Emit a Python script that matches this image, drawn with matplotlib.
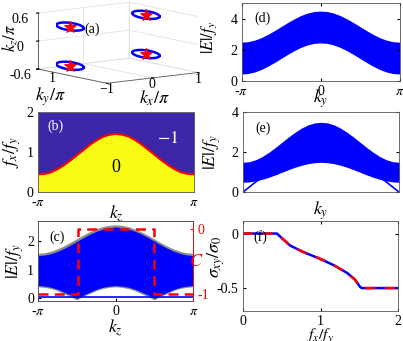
import numpy as np
import matplotlib
matplotlib.use("Agg")
import matplotlib.pyplot as plt
from mpl_toolkits.mplot3d import proj3d

plt.rcParams['font.family'] = ['Liberation Serif', 'DejaVu Serif']
plt.rcParams['mathtext.fontset'] = 'stix'
plt.rcParams['font.size'] = 10
plt.rcParams['xtick.direction'] = 'in'
plt.rcParams['ytick.direction'] = 'in'
plt.rcParams['xtick.major.size'] = 2.5
plt.rcParams['ytick.major.size'] = 2.5
plt.rcParams['xtick.major.pad'] = 3
plt.rcParams['ytick.major.pad'] = 3
plt.rcParams['axes.linewidth'] = 0.6
plt.rcParams['axes.edgecolor'] = '#555555'

BLUE = '#0000ff'
GRAY = '#8c8c8c'
PURPLE = '#3e26a8'
YELLOW = '#f9fb15'
LAB = 13

# momentum grid, -pi .. pi in steps of pi/12
k = np.linspace(-np.pi, np.pi, 25)

# (a) Weyl points: kx/pi, ky/pi, kz/pi
weyl_kx = [-0.9, -0.9, 0.95, 0.95]
weyl_ky = [0.2, 0.2, 0.45, 0.45]
weyl_kz = [0.42, -0.42, 0.42, -0.42]

# (b) phase boundary f_x/f_y vs kz
b_curve = [0.45, 0.46, 0.50, 0.58, 0.68, 0.80, 0.93, 1.06, 1.19, 1.30, 1.39, 1.44, 1.46,
           1.44, 1.39, 1.30, 1.19, 1.06, 0.93, 0.80, 0.68, 0.58, 0.50, 0.46, 0.45]

# (c) bulk band edges and Chern number vs kz
c_low = [0.45, 0.43, 0.39, 0.32, 0.22, 0.12, 0.00, 0.12, 0.22, 0.32, 0.39, 0.43, 0.45,
         0.43, 0.39, 0.32, 0.22, 0.12, 0.00, 0.12, 0.22, 0.32, 0.39, 0.43, 0.45]
c_up = [1.50, 1.52, 1.57, 1.65, 1.75, 1.87, 2.00, 2.13, 2.25, 2.35, 2.43, 2.48, 2.50,
        2.48, 2.43, 2.35, 2.25, 2.13, 2.00, 1.87, 1.75, 1.65, 1.57, 1.52, 1.50]
c_flat = 0.05
chern_kz = [-np.pi, -0.49 * np.pi, -0.49 * np.pi, 0.49 * np.pi, 0.49 * np.pi, np.pi]
chern_C = [-1, -1, 0, 0, -1, -1]

# (d) band vs ky
d_low = [0.45, 0.48, 0.58, 0.74, 0.95, 1.19, 1.45, 1.71, 1.95, 2.16, 2.32, 2.42, 2.45,
         2.42, 2.32, 2.16, 1.95, 1.71, 1.45, 1.19, 0.95, 0.74, 0.58, 0.48, 0.45]
d_up = [2.50, 2.53, 2.63, 2.79, 3.00, 3.24, 3.50, 3.76, 4.00, 4.21, 4.37, 4.47, 4.50,
        4.47, 4.37, 4.21, 4.00, 3.76, 3.50, 3.24, 3.00, 2.79, 2.63, 2.53, 2.50]

# (e) band and edge state vs ky
e_low = [0.50, 0.52, 0.57, 0.65, 0.75, 0.87, 1.00, 1.13, 1.25, 1.35, 1.43, 1.48, 1.50,
         1.48, 1.43, 1.35, 1.25, 1.13, 1.00, 0.87, 0.75, 0.65, 0.57, 0.52, 0.50]
e_up = [1.50, 1.53, 1.63, 1.79, 2.00, 2.24, 2.50, 2.76, 3.00, 3.21, 3.37, 3.47, 3.50,
        3.47, 3.37, 3.21, 3.00, 2.76, 2.50, 2.24, 2.00, 1.79, 1.63, 1.53, 1.50]
e_edge = [0.00, 0.26, 0.52, 0.77, 1.00, 1.22, 1.41, 1.59, 1.73, 1.85, 1.93, 1.98, 2.00,
          1.98, 1.93, 1.85, 1.73, 1.59, 1.41, 1.22, 1.00, 0.77, 0.52, 0.26, 0.00]

# (f) Hall conductivity vs f_x/f_y
f_x = [0.0, 0.44, 0.50, 0.61, 0.78, 0.99, 1.17, 1.34, 1.44, 1.51, 1.53, 2.0]
f_sig = [0.0, 0.0, -0.04, -0.11, -0.17, -0.23, -0.29, -0.36, -0.42, -0.49, -0.5, -0.5]

W, H = 403.0, 341.0
fig = plt.figure(figsize=(W / 100, H / 100), dpi=100)

def px(l, t, r, b):
    return [l / W, 1 - b / H, (r - l) / W, (b - t) / H]

pi_ticks = [-np.pi, 0, np.pi]
pi_labels = ['-$\\pi$', '0', '$\\pi$']

# ---- (a) 3D sketch
ax = fig.add_axes(px(0, -12, 210, 108), projection='3d')
ax.set_proj_type('ortho')
ax.view_init(elev=9, azim=-127)
ax.set_xlim(-1, 1)
ax.set_ylim(-1, 1)
ax.set_zlim(-0.6, 0.6)
ax.set_xticks([-1, 0, 1])
ax.set_yticks([1])
ax.set_yticklabels([''])
ax.set_zticks([-0.6, 0, 0.6])
ax.set_zticklabels(['-0.6', '0', '0.6'])
for a in (ax.xaxis, ax.yaxis, ax.zaxis):
    a.set_pane_color((1, 1, 1, 0))
    a._axinfo['grid']['color'] = '#dddddd'
    a._axinfo['grid']['linewidth'] = 0.5
    a.line.set_color('#555555')
    a.line.set_linewidth(0.6)
ax.tick_params(pad=-3, labelsize=10)
ax.tick_params(axis='x', pad=-8)
t = np.linspace(0, 2 * np.pi, 60)
for cx, cy, cz in zip(weyl_kx, weyl_ky, weyl_kz):
    ax.plot(cx + 0.3 * np.cos(t), cy + 0.0 * t, cz + 0.08 * np.sin(t) - 0.07 * np.cos(t),
            color=BLUE, lw=1.8)
ax.scatter(weyl_kx, weyl_ky, weyl_kz, marker='*', s=70, color='red', depthshade=False)
ax.text2D(0.23, 0.6, '(a)', transform=ax.transAxes, fontsize=10)


def box_px(ax3, x, y, z):
    fig.canvas.draw()
    xs, ys, _ = proj3d.proj_transform(x, y, z, ax3.get_proj())
    X, Y = ax3.transData.transform((xs, ys))
    return X, H - Y


# fit the box outline to the reference frame: left edge 38..198 wide, wall 13..69
zoom, zasp = 1.3, 0.5
for _ in range(4):
    ax.set_box_aspect((1, 1, zasp), zoom=zoom)
    xl, yt = box_px(ax, -1, 1, 0.6)
    _, yb = box_px(ax, -1, 1, -0.6)
    xr, _ = box_px(ax, 1, -1, -0.6)
    fw = 160.0 / (xr - xl)
    fh = 56.0 / (yb - yt)
    zoom *= fw
    zasp *= fh / fw
ax.set_box_aspect((1, 1, zasp), zoom=zoom)
xl, yt = box_px(ax, -1, 1, 0.6)
pos = ax.get_position()
ax.set_position([pos.x0 + (38 - xl) / W, pos.y0 - (13 - yt) / H, pos.width, pos.height])

fig.text(10 / W, 1 - 38 / H, '$k_z/\\pi$', rotation=90, fontsize=12, ha='center', va='center')
fig.text(52 / W, 1 - 78 / H, '1', fontsize=10, ha='center', va='center')
fig.text(51 / W, 1 - 97 / H, '$k_y/\\pi$', fontsize=LAB, ha='center', va='center')
fig.text(155 / W, 1 - 98 / H, '$k_x/\\pi$', fontsize=LAB, ha='center', va='center')

# ---- (b) phase diagram
ax = fig.add_axes(px(38, 112.3, 194, 192.3))
ax.fill_between(k, 0, b_curve, color=YELLOW, lw=0)
ax.fill_between(k, b_curve, 2, color=PURPLE, lw=0)
ax.plot(k, b_curve, color='red', lw=1.5)
ax.set_xlim(-np.pi, np.pi)
ax.set_ylim(0, 2)
ax.set_yticks([0, 1, 2])
ax.set_xticks([-np.pi, np.pi])
ax.set_xticklabels(['-$\\pi$', '$\\pi$'])
ax.tick_params(length=0)
ax.set_xlabel('$k_z$', fontsize=LAB, labelpad=-4)
ax.set_ylabel('$f_x/f_y$', fontsize=LAB, labelpad=3)
ax.text(0.06, 0.78, '(b)', transform=ax.transAxes, color='white', fontsize=10)
ax.text(0.76, 0.62, '$-1$', transform=ax.transAxes, color='white', fontsize=13)
ax.text(0.5, 0.26, '0', transform=ax.transAxes, color='black', fontsize=13, ha='center')

# ---- (c) band + Chern number
ax = fig.add_axes(px(38.3, 221.3, 193.3, 300.7))
ax.plot(k, c_low, color=GRAY, lw=2.5, zorder=1)
ax.plot(k, c_up, color=GRAY, lw=2.5, zorder=1)
ax.fill_between(k, c_low, c_up, color=BLUE, lw=0, zorder=2)
ax.axhline(c_flat, color=BLUE, lw=1.2, zorder=2)
ax.set_xlim(-np.pi, np.pi)
ax.set_ylim(-0.08, 2.7)
ax.set_yticks([0, 1, 2])
ax.set_xticks(pi_ticks)
ax.set_xticklabels(pi_labels)
ax.set_xlabel('$k_z$', fontsize=LAB, labelpad=0)
ax.set_ylabel('$|E|/f_y$', fontsize=LAB, labelpad=1)
ax.text(0.07, 0.76, '(c)', transform=ax.transAxes, fontsize=10)
ax2 = ax.twinx()
ax2.plot(chern_kz, chern_C, 'r--', lw=1.8, dashes=(4, 2.5))
ax2.set_ylim(-1.1, 0.12)
ax2.set_yticks([-1, 0])
ax2.set_yticklabels(['-1', '0'])
ax2.tick_params(axis='y', colors='red', labelsize=10)
ax2.spines['right'].set_color('red')
ax2.set_ylabel('$C$', color='red', rotation=0, fontsize=LAB, labelpad=-9, va='center')

# ---- (d) band vs ky
ax = fig.add_axes(px(241.5, 3.3, 399.5, 81))
ax.fill_between(k, d_low, d_up, color=BLUE, lw=0)
ax.set_xlim(-np.pi, np.pi)
ax.set_ylim(0, 5)
ax.set_yticks([0, 2, 4])
ax.set_xticks(pi_ticks)
ax.set_xticklabels(pi_labels)
ax.tick_params(top=True, right=True)
ax.set_xlabel('$k_y$', fontsize=LAB, labelpad=-8)
ax.set_ylabel('$|E|/f_y$', fontsize=12)
ax.yaxis.set_label_coords(-0.14, 0.56)
ax.text(0.08, 0.76, '(d)', transform=ax.transAxes, fontsize=10)

# ---- (e) band + edge state vs ky
ax = fig.add_axes(px(242.7, 112.3, 399.3, 192.3))
ax.fill_between(k, e_low, e_up, color=BLUE, lw=0)
ax.plot(k, e_edge, color=BLUE, lw=1.2)
ax.set_xlim(-np.pi, np.pi)
ax.set_ylim(0, 4)
ax.set_yticks([0, 2, 4])
ax.set_xticks([])
ax.tick_params(right=True)
ax.set_xlabel('$k_y$', fontsize=LAB, labelpad=5)
ax.set_ylabel('$|E|/f_y$', fontsize=LAB, labelpad=6)
ax.text(0.08, 0.76, '(e)', transform=ax.transAxes, fontsize=10)

# ---- (f) Hall conductivity
ax = fig.add_axes(px(242.7, 221, 398.3, 311))
ax.plot(f_x, f_sig, color=BLUE, lw=1.8)
ax.plot(f_x, f_sig, color='red', lw=1.8, ls='--', dashes=(4, 4))
ax.set_xlim(0, 2)
ax.set_ylim(-0.71, 0.115)
ax.set_xticks([0, 1, 2])
ax.set_yticks([-0.5, 0])
ax.set_yticklabels(['-0.5', '0'])
ax.tick_params(top=True, right=True)
ax.tick_params(axis='x', pad=3)
ax.set_xlabel('$f_x/f_y$', fontsize=11.5, labelpad=-1)
ax.set_ylabel('$\\sigma_{xy}/\\sigma_0$', fontsize=LAB)
ax.yaxis.set_label_coords(-0.1, 0.6)
ax.text(0.07, 0.78, '(f)', transform=ax.transAxes, fontsize=10)

fig.savefig('out.png', dpi=100)
